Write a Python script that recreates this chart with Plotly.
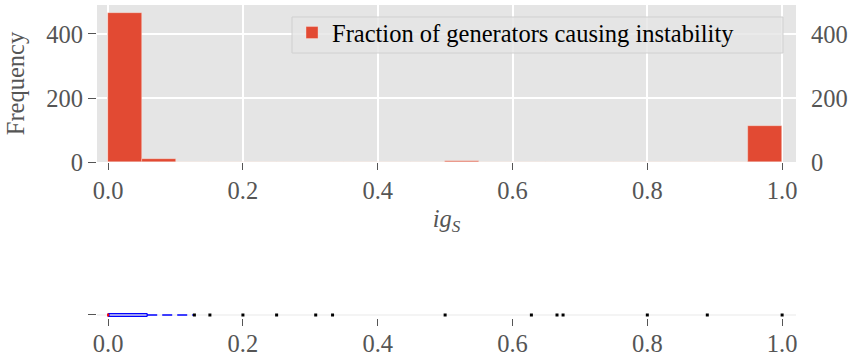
import plotly.graph_objects as go

# ---------------- data ----------------
bin_width = 0.05
bin_left = [0.00, 0.05, 0.10, 0.15, 0.20, 0.25, 0.30, 0.35, 0.40, 0.45,
            0.50, 0.55, 0.60, 0.65, 0.70, 0.75, 0.80, 0.85, 0.90, 0.95]
counts = [465, 8, 1, 0, 1, 0, 1, 0, 0, 0,
          2, 0, 0, 0, 0, 0, 0, 0, 0, 113]
series_name = "Fraction of generators causing instability"

box_q1 = [0.0]
box_median = [0.0]
box_q3 = [0.058]
whisker_low = [0.0]
whisker_high = [0.128]
fliers = [0.151, 0.20, 0.25, 0.308, 0.333, 0.50, 0.628, 0.666, 0.675, 0.80, 0.889, 1.0]

x_ticks = [0.0, 0.2, 0.4, 0.6, 0.8, 1.0]
x_ticklabels = ["0.0", "0.2", "0.4", "0.6", "0.8", "1.0"]
y_ticks = [0, 200, 400]
y_ticklabels = ["0", "200", "400"]

# ---------------- style ----------------
FONT = "Liberation Serif"
FS = 24.5
RED = "#E24A33"
GRAY_TXT = "#555555"
BG = "#E5E5E5"

bin_centers = [b + bin_width / 2 for b in bin_left]

fig = go.Figure()

fig.add_trace(go.Bar(
    x=bin_centers, y=counts, width=bin_width,
    marker=dict(color=RED, line=dict(width=0.6, color="rgba(255,235,230,0.6)")),
    name=series_name, showlegend=True,
    xaxis="x", yaxis="y",
))

# invisible trace to carry the right-hand axis
fig.add_trace(go.Scatter(
    x=[bin_centers[0]], y=[counts[0]], mode="markers",
    marker=dict(opacity=0), showlegend=False, hoverinfo="skip",
    xaxis="x", yaxis="y3",
))

# ---- boxplot strip ----
fig.add_trace(go.Box(
    y=[0], q1=box_q1, median=box_median, q3=box_q3,
    lowerfence=box_q1, upperfence=box_q3,
    orientation="h", width=0.5,
    fillcolor="rgba(90,90,240,0.55)",
    line=dict(color="#0000ff", width=1),
    boxpoints=False, showlegend=False,
    xaxis="x2", yaxis="y2",
))
# dashed whisker
fig.add_trace(go.Scatter(
    x=[box_q3[0], whisker_high[0]], y=[0, 0], mode="lines",
    line=dict(color="#0000ff", width=1.6, dash="10px,5px"),
    showlegend=False, xaxis="x2", yaxis="y2",
))
# median
fig.add_trace(go.Scatter(
    x=[box_median[0], box_median[0]], y=[-0.25, 0.25], mode="lines",
    line=dict(color="red", width=2),
    showlegend=False, xaxis="x2", yaxis="y2",
))
# caps
fig.add_trace(go.Scatter(
    x=[whisker_high[0]], y=[0], mode="markers",
    marker=dict(symbol="square", size=3, color="black"),
    showlegend=False, xaxis="x2", yaxis="y2",
))
# fliers
fig.add_trace(go.Scatter(
    x=fliers, y=[0] * len(fliers), mode="markers",
    marker=dict(symbol="square", size=3, color="black", line=dict(width=0)),
    showlegend=False, xaxis="x2", yaxis="y2", cliponaxis=False,
))

xr = [-0.0165, 1.0206]
tickfont = dict(family=FONT, size=FS, color=GRAY_TXT)

fig.update_layout(
    width=855, height=357,
    margin=dict(l=97, r=59, t=5, b=39, autoexpand=False),
    paper_bgcolor="white",
    plot_bgcolor=BG,
    font=dict(family=FONT, size=FS, color=GRAY_TXT),
    bargap=0,
    showlegend=True,
    legend=dict(
        x=0.279, xanchor="left", y=0.9836, yanchor="top",
        bgcolor="rgba(0,0,0,0)", borderwidth=0,
        font=dict(family=FONT, size=FS, color="black"),
    ),
    xaxis=dict(
        domain=[0, 1], range=xr, anchor="y", automargin=False,
        tickvals=x_ticks, ticktext=x_ticklabels, tickfont=tickfont,
        ticks="outside", ticklen=7, tickcolor=GRAY_TXT, tickwidth=1,
        showgrid=True, gridcolor="white", gridwidth=1.5,
        zeroline=False, showline=False,
        title=dict(text="<i>ig<sub>S</sub></i>", font=dict(family=FONT, size=FS, color=GRAY_TXT), standoff=6),
    ),
    yaxis=dict(
        domain=[0.4984, 1], range=[0, 490.6], anchor="x", automargin=False,
        tickvals=y_ticks, ticktext=y_ticklabels, tickfont=tickfont,
        ticks="outside", ticklen=8, tickcolor=GRAY_TXT, tickwidth=1,
        showgrid=True, gridcolor="white", gridwidth=1.5,
        zeroline=False, showline=False,
        title=dict(text="Frequency", font=dict(family=FONT, size=FS, color=GRAY_TXT), standoff=14),
    ),
    yaxis3=dict(
        overlaying="y", side="right", anchor="x", range=[0, 490.6], automargin=False,
        tickvals=y_ticks, ticktext=y_ticklabels, tickfont=tickfont,
        ticks="", showgrid=False, zeroline=False, showline=False,
        ticklabelstandoff=14,
    ),
    xaxis2=dict(
        domain=[0, 1], range=xr, anchor="y2", automargin=False,
        tickvals=x_ticks, ticktext=x_ticklabels, tickfont=tickfont,
        ticks="outside", ticklen=7, tickcolor=GRAY_TXT, tickwidth=1,
        showgrid=False, zeroline=False, showline=False,
        ticklabelstandoff=-3,
    ),
    yaxis2=dict(
        domain=[0, 0.01917], range=[-0.5, 0.5], anchor="x2", automargin=False,
        tickvals=[0], showticklabels=False,
        ticks="outside", ticklen=8, tickcolor=GRAY_TXT, tickwidth=1,
        showgrid=False, zeroline=False, showline=False,
    ),
    shapes=[
        dict(type="rect", xref="x2 domain", yref="y2 domain", x0=0, x1=1, y0=0, y1=1,
             fillcolor="white", line=dict(width=0), layer="below"),
        dict(type="line", xref="x2 domain", yref="y2", x0=0, x1=1, y0=0, y1=0,
             line=dict(color="#F0F0F0", width=1.5), layer="below"),
        # legend frame
        dict(type="rect", xref="paper", yref="paper",
             x0=0.279, x1=0.9814, y0=0.8466, y1=0.9617,
             fillcolor="rgba(229,229,229,0.8)", line=dict(color="#D0D0D0", width=1),
             layer="above"),
    ],
)

fig.write_html(
    "out.html",
    config={"displayModeBar": False},
    post_script="document.body.style.margin='0';document.body.style.padding='0';",
)
